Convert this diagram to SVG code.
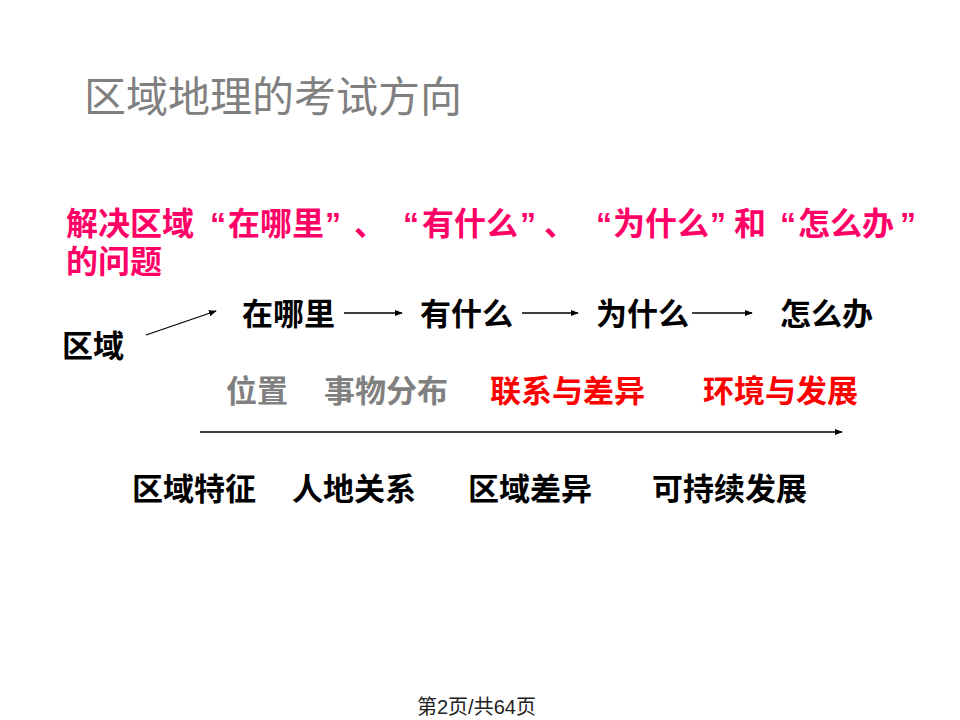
<svg xmlns="http://www.w3.org/2000/svg" width="960" height="720" viewBox="0 0 960 720">
<style>
.cjk{font-family:"Noto Sans CJK SC","Liberation Sans",sans-serif;}
.q{font-family:"Liberation Sans","Noto Sans CJK SC",sans-serif;}
.title{font-size:42px;fill:#808080;}
.pink{font-size:32px;font-weight:bold;fill:#FF0066;}
.b{font-size:31px;font-weight:bold;fill:#000;}
.g{font-size:31px;font-weight:bold;fill:#808080;}
.r{font-size:31px;font-weight:bold;fill:#FF0000;}
.foot{font-family:"Liberation Sans","Noto Sans CJK SC",sans-serif;font-size:20px;fill:#222;}
.ln{stroke:#000;stroke-width:1.3;fill:none;marker-end:url(#ah);}
</style>
<defs>
<marker id="ah" viewBox="0 0 10 10" refX="9" refY="5" markerWidth="8" markerHeight="8" markerUnits="userSpaceOnUse" orient="auto">
<path d="M0,1 L10,5 L0,9 Z" fill="#000"/>
</marker>
</defs>
<rect width="960" height="720" fill="#fff"/>
<g id="title"><text class="cjk title" x="84" y="112">区域地理的考试方向</text></g>
<g id="intro">
<text class="cjk pink" y="235"><tspan x="66">解决区域</tspan><tspan class="q" x="210">“</tspan><tspan x="228">在哪里</tspan><tspan class="q" x="325">”</tspan><tspan x="354">、</tspan><tspan class="q" x="403">“</tspan><tspan x="422">有什么</tspan><tspan class="q" x="520">”</tspan><tspan x="544">、</tspan><tspan class="q" x="596">“</tspan><tspan x="613">为什么</tspan><tspan class="q" x="710">”</tspan><tspan x="734">和</tspan><tspan class="q" x="780">“</tspan><tspan x="798">怎么办</tspan><tspan class="q" x="900">”</tspan></text>
<text class="cjk pink" x="66" y="273">的问题</text>
</g>
<g id="region"><text class="cjk b" x="62" y="357">区域</text></g>
<g id="where"><text class="cjk b" x="242" y="325">在哪里</text></g>
<g id="what"><text class="cjk b" x="420" y="325">有什么</text></g>
<g id="why"><text class="cjk b" x="596" y="325">为什么</text></g>
<g id="how"><text class="cjk b" x="780" y="325">怎么办</text></g>
<g id="row3">
<text class="cjk g" x="226" y="402">位置</text>
<text class="cjk g" x="324" y="402">事物分布</text>
<text class="cjk r" x="490" y="402">联系与差异</text>
<text class="cjk r" x="703" y="402">环境与发展</text>
</g>
<g id="row4">
<text class="cjk b" x="132" y="500">区域特征</text>
<text class="cjk b" x="292" y="500">人地关系</text>
<text class="cjk b" x="468" y="500">区域差异</text>
<text class="cjk b" x="652" y="500">可持续发展</text>
</g>
<g id="connectors">
<line class="ln" x1="146" y1="335" x2="216" y2="311"/>
<line class="ln" x1="344" y1="313" x2="402" y2="313"/>
<line class="ln" x1="522" y1="313" x2="578" y2="313"/>
<line class="ln" x1="692" y1="313" x2="752" y2="313"/>
<line class="ln" x1="200" y1="432" x2="842" y2="432"/>
</g>
<g id="footer"><text class="foot" x="417" y="714">第2页/共64页</text></g>
</svg>
